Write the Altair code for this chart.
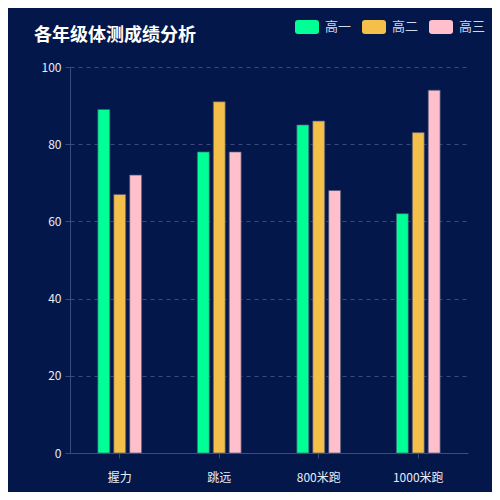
import altair as alt
import pandas as pd

# 体测项目和各年级成绩
categories = ["握力", "跳远", "800米跑", "1000米跑"]
grades = ["高一", "高二", "高三"]
scores_g1 = [89, 78, 85, 62]
scores_g2 = [67, 91, 86, 83]
scores_g3 = [72, 78, 68, 94]
colors = ["#00ff95", "#f4c04a", "#ffc0cb"]

rows = []
for grade, scores in zip(grades, [scores_g1, scores_g2, scores_g3]):
    for cat, val in zip(categories, scores):
        rows.append({"项目": cat, "年级": grade, "成绩": val})
df = pd.DataFrame(rows)

FONT = "Noto Sans CJK SC"
BG = "#03174a"
LINE = "#3b4b7c"

# rounded rectangle symbol for the legend
round_rect = ("M-0.75,-0.583 H0.75 Q1,-0.583 1,-0.333 V0.333 Q1,0.583 0.75,0.583 "
              "H-0.75 Q-1,0.583 -1,0.333 V-0.333 Q-1,-0.583 -0.75,-0.583 Z")

chart = alt.Chart(df).mark_bar(stroke="#4a5578", strokeWidth=1, strokeOpacity=0.7).encode(
    x=alt.X("项目:N", sort=categories, title=None,
            scale=alt.Scale(paddingInner=0.56, paddingOuter=0.28),
            axis=alt.Axis(labelAngle=0, labelColor="#e8ecf5", labelFontSize=12,
                          labelPadding=14, domainColor=LINE, tickColor=LINE,
                          tickSize=5, grid=False)),
    xOffset=alt.XOffset("年级:N", sort=grades,
                        scale=alt.Scale(paddingInner=0.25, paddingOuter=0)),
    y=alt.Y("成绩:Q", title=None, scale=alt.Scale(domain=[0, 100]),
            axis=alt.Axis(values=[0, 20, 40, 60, 80, 100], labelColor="#e8ecf5",
                          labelFontSize=12, labelPadding=4, domainColor=LINE,
                          tickColor=LINE, tickSize=5, gridColor=LINE,
                          gridDash=[4, 4], gridOpacity=1)),
    color=alt.Color("年级:N", sort=grades,
                    scale=alt.Scale(domain=grades, range=colors),
                    legend=alt.Legend(title=None, orient="none", legendX=225,
                                      legendY=-52, direction="horizontal",
                                      symbolType=round_rect, symbolSize=576,
                                      symbolStrokeWidth=0, symbolOpacity=1,
                                      labelColor="#d0d8ea", labelFontSize=13,
                                      labelOffset=6, columnPadding=10)),
).properties(
    width=398,
    height=386,
    padding={"left": 62, "top": 59, "right": 24, "bottom": 39},
    autosize=alt.AutoSizeParams(type="none"),
    background=BG,
    title=alt.TitleParams("各年级体测成绩分析", anchor="start", frame="group",
                          dx=-36, offset=-30, fontSize=18, fontWeight="bold",
                          color="#ffffff", font=FONT),
).configure(
    font=FONT,
).configure_view(
    stroke=None,
)

chart.save("out.html", embed_options={"renderer": "svg", "actions": False})
